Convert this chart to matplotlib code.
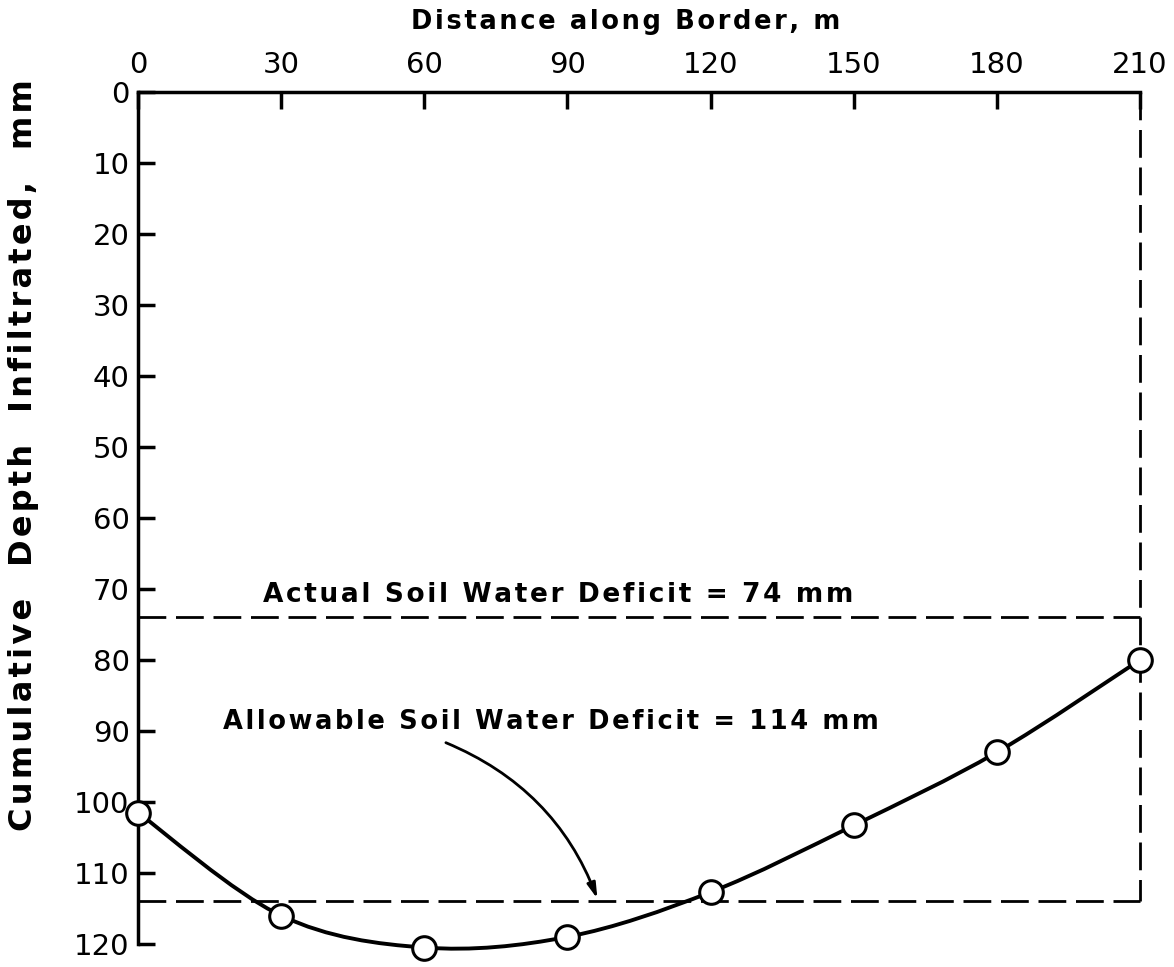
import numpy as np
import matplotlib
matplotlib.use('Agg')
import matplotlib.pyplot as plt
from matplotlib.path import Path
from matplotlib.patches import PathPatch

# measured infiltration along the border
distance = [0, 30, 60, 90, 120, 150, 180, 210]
depth = [101.5, 116, 120.5, 119, 112.7, 103.3, 93, 80]

actual_deficit = 74
allowable_deficit = 114

x_ticks = [0, 30, 60, 90, 120, 150, 180, 210]
y_ticks = [0, 10, 20, 30, 40, 50, 60, 70, 80, 90, 100, 110, 120]


def smooth_path(xs, ys):
    # Catmull-Rom curve through the points, written as cubic Bezier segments
    pts = np.column_stack([xs, ys]).astype(float)
    ext = np.vstack([pts[0], pts, pts[-1]])
    verts = [tuple(pts[0])]
    codes = [Path.MOVETO]
    for i in range(1, len(ext) - 2):
        p0, p1, p2, p3 = ext[i - 1], ext[i], ext[i + 1], ext[i + 2]
        c1 = p1 + (p2 - p0) / 6.0
        c2 = p2 - (p3 - p1) / 6.0
        verts += [tuple(c1), tuple(c2), tuple(p2)]
        codes += [Path.CURVE4] * 3
    return Path(verts, codes)


def spaced(s):
    # lettering with a little extra tracking
    return '\u200a'.join(s)


plt.rcParams['font.family'] = ['DejaVu Sans']

fig = plt.figure(figsize=(11.74, 9.67), dpi=100)
ax = fig.add_axes([0.1175, 0.0238, 0.8535, 0.8811])

ax.set_xlim(0, 210)
ax.set_ylim(120, 0)

for side in ['right', 'bottom']:
    ax.spines[side].set_visible(False)
for side in ['left', 'top']:
    ax.spines[side].set_linewidth(2.5)

ax.xaxis.set_ticks_position('top')
ax.xaxis.set_label_position('top')
ax.set_xticks(x_ticks)
ax.set_yticks(y_ticks)
ax.tick_params(axis='both', direction='in', length=12, width=2.5,
               labelsize=21, pad=6)
ax.tick_params(axis='x', pad=9)

ax.set_xlabel(spaced('Distance along Border, m'), fontsize=18.5,
              fontweight='bold', va='center', ha='center')
ax.xaxis.set_label_coords(0.487, 1.082)
ax.set_ylabel(spaced('Cumulative  Depth  Infiltrated,  mm'), fontsize=23,
              fontweight='bold', va='center', ha='center')
ax.yaxis.set_label_coords(-0.114, 0.574)

dash = (0, (10, 3.5))
ax.plot([0, 210], [actual_deficit, actual_deficit], color='black', lw=2,
        linestyle=dash, clip_on=False)
ax.plot([0, 210], [allowable_deficit, allowable_deficit], color='black', lw=2,
        linestyle=dash, clip_on=False)
ax.plot([210, 210], [0, allowable_deficit], color='black', lw=2,
        linestyle=dash, clip_on=False)

curve = PathPatch(smooth_path(distance, depth), facecolor='none',
                  edgecolor='black', lw=2.8, transform=ax.transData,
                  clip_on=False, zorder=3)
ax.add_patch(curve)
ax.plot(distance, depth, linestyle='none', marker='o', markersize=17,
        markerfacecolor='white', markeredgecolor='black',
        markeredgewidth=2.2, clip_on=False, zorder=4)

ax.text(88, 70.8, spaced('Actual Soil Water Deficit = %d mm' % actual_deficit),
        ha='center', va='center', fontsize=19, fontweight='bold')
ax.text(86.5, 88.8,
        spaced('Allowable Soil Water Deficit = %d mm' % allowable_deficit),
        ha='center', va='center', fontsize=18.5, fontweight='bold')
ax.annotate('', xy=(96.5, allowable_deficit), xytext=(64, 91.5),
            arrowprops=dict(arrowstyle='-|>,head_length=0.9,head_width=0.25',
                            connectionstyle='arc3,rad=-0.22',
                            color='black', lw=2))

fig.savefig('out.png', dpi=100)
